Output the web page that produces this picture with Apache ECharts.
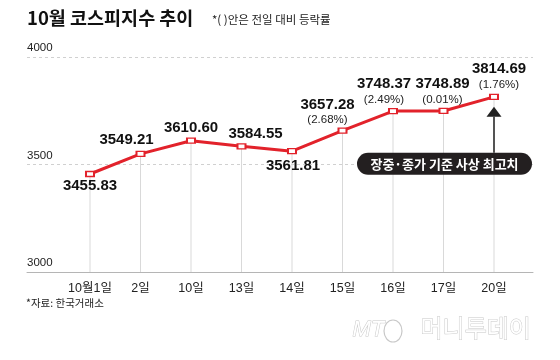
<!DOCTYPE html>
<html>
<head>
<meta charset="utf-8">
<script src="https://cdn.jsdelivr.net/npm/echarts@6/dist/echarts.min.js"></script>
<style>
html,body{margin:0;padding:0;background:#fff;}
#c{width:560px;height:360px;}
</style>
</head>
<body>
<div id="c"></div>
<script>
var categories = ['10월1일', '2일', '10일', '13일', '14일', '15일', '16일', '17일', '20일'];
var values = [3455.83, 3549.21, 3610.60, 3584.55, 3561.81, 3657.28, 3748.37, 3748.89, 3814.69];
var changes = ['', '', '', '', '', '2.68%', '2.49%', '0.01%', '1.76%'];
var yTicks = [3000, 3500, 4000];
var title = '10월 코스피지수 추이';
var subtitle = '*( )안은 전일 대비 등락률';
var source = '*자료: 한국거래소';
var note = '장중·종가 기준 사상 최고치';

var NARROW = "'Liberation Sans', 'Noto Sans CJK KR', sans-serif";
var KR = "'Noto Sans CJK KR', 'Liberation Sans', sans-serif";

// label placement (style, not data)
var labelOffsets = [[0, 12], [-14, -14], [0, -13], [14, -12], [1, 15], [-15, -19], [-9, -20], [-1, -20], [5, -21]];

var chart = echarts.init(document.getElementById('c'), null, {renderer: 'canvas'});

var lineData = values.map(function (v, i) {
  return {
    value: v,
    label: {offset: labelOffsets[i]}
  };
});

var option = {
  animation: false,
  backgroundColor: '#fff',
  grid: [
    {left: 27, right: 27, top: 57, bottom: 88},
    {left: 90, right: 66, top: 57, bottom: 88}
  ],
  xAxis: [
    {
      gridIndex: 0, type: 'value', min: 0, max: 1,
      axisLine: {show: true, lineStyle: {color: '#b5b5b5', width: 1}},
      axisTick: {show: false}, axisLabel: {show: false}, splitLine: {show: false}
    },
    {
      gridIndex: 1, type: 'category', data: categories, boundaryGap: false,
      axisLine: {show: false}, axisTick: {show: false}, splitLine: {show: false},
      axisLabel: {
        interval: 0, margin: 10, fontSize: 12.5, color: '#222', fontFamily: NARROW
      }
    }
  ],
  yAxis: [
    {
      gridIndex: 0, type: 'value', min: yTicks[0], max: yTicks[yTicks.length - 1], interval: 500,
      axisLine: {show: false}, axisTick: {show: false},
      splitLine: {show: true, lineStyle: {color: '#d0d0d0', type: [3, 3], width: 1}},
      axisLabel: {
        inside: true, margin: 0, align: 'left', verticalAlign: 'bottom',
        padding: [0, 0, 3, 0],
        formatter: function (v) { return String(v); },
        fontSize: 11.5, color: '#222', fontFamily: NARROW
      }
    },
    {
      gridIndex: 1, type: 'value', min: yTicks[0], max: yTicks[yTicks.length - 1],
      show: false, splitLine: {show: false}
    }
  ],
  series: [
    {
      type: 'bar', xAxisIndex: 1, yAxisIndex: 1,
      data: values, barWidth: 1, silent: true,
      itemStyle: {color: '#d9d9d9'}, z: 1
    },
    {
      type: 'line', xAxisIndex: 1, yAxisIndex: 1,
      data: lineData,
      symbol: 'rect', symbolSize: [8, 5],
      lineStyle: {color: '#e2222b', width: 3},
      itemStyle: {color: '#fff', borderColor: '#e2222b', borderWidth: 1.6},
      z: 3,
      label: {
        show: true, position: 'inside', align: 'center', verticalAlign: 'middle',
        formatter: function (p) {
          var c = changes[p.dataIndex];
          var s = '{v|' + p.value.toFixed(2) + '}';
          if (c) s += '\n{p|(' + c + ')}';
          return s;
        },
        rich: {
          v: {fontSize: 15, fontWeight: 'bold', color: '#111', fontFamily: NARROW, lineHeight: 17, align: 'center'},
          p: {fontSize: 11.5, color: '#222', fontFamily: NARROW, lineHeight: 14, align: 'center'}
        }
      }
    }
  ],
  graphic: [
    {type: 'text', left: 27, top: 9, style: {text: title, font: 'bold 18.5px ' + KR, fill: '#111'}},
    {type: 'text', left: 212, top: 14, style: {text: subtitle, font: '11.5px ' + KR, fill: '#222'}},
    {type: 'text', left: 26, top: 298, style: {text: source, font: '10.5px ' + KR, fill: '#222'}}
  ]
};
chart.setOption(option);

// annotation anchored to the last data point
var lastIdx = values.length - 1;
var pt = chart.convertToPixel({xAxisIndex: 1, yAxisIndex: 1}, [lastIdx, values[lastIdx]]);
var px = pt[0], py = pt[1];
var tipY = py + 10, baseY = py + 20, boxTop = py + 56, boxH = 22;
var boxRight = px + 38, boxLeft = px - 137;
var extra = [
  {type: 'line', shape: {x1: px, y1: baseY, x2: px, y2: boxTop}, style: {stroke: '#222', lineWidth: 1.5}, z: 10},
  {type: 'polygon', shape: {points: [[px, tipY], [px - 7.5, baseY], [px + 7.5, baseY]]}, style: {fill: '#222'}, z: 10},
  {type: 'rect', shape: {x: boxLeft, y: boxTop, width: boxRight - boxLeft, height: boxH, r: 11}, style: {fill: '#231f20'}, z: 10},
  {type: 'text', x: (boxLeft + boxRight) / 2, y: boxTop + boxH / 2 + 0.5,
    style: {text: note, font: 'bold 13px ' + KR, fill: '#fff', align: 'center', verticalAlign: 'middle'}, z: 11},
  // logo
  {type: 'text', left: 352, top: 318, style: {text: 'MT', font: 'italic 22px ' + "'Liberation Sans', sans-serif", fill: '#fff', stroke: '#c8c8c8', lineWidth: 1}, z: 10},
  {type: 'ellipse', shape: {cx: 393, cy: 331, rx: 9, ry: 11}, style: {fill: 'none', stroke: '#c8c8c8', lineWidth: 1.2}, z: 10},
  {type: 'text', left: 420, top: 315, style: {text: '머니투데이', font: '24px ' + KR, fill: '#fff', stroke: '#c8c8c8', lineWidth: 1}, z: 10}
];
option.graphic = option.graphic.concat(extra);
chart.setOption({graphic: option.graphic});
</script>
</body>
</html>
